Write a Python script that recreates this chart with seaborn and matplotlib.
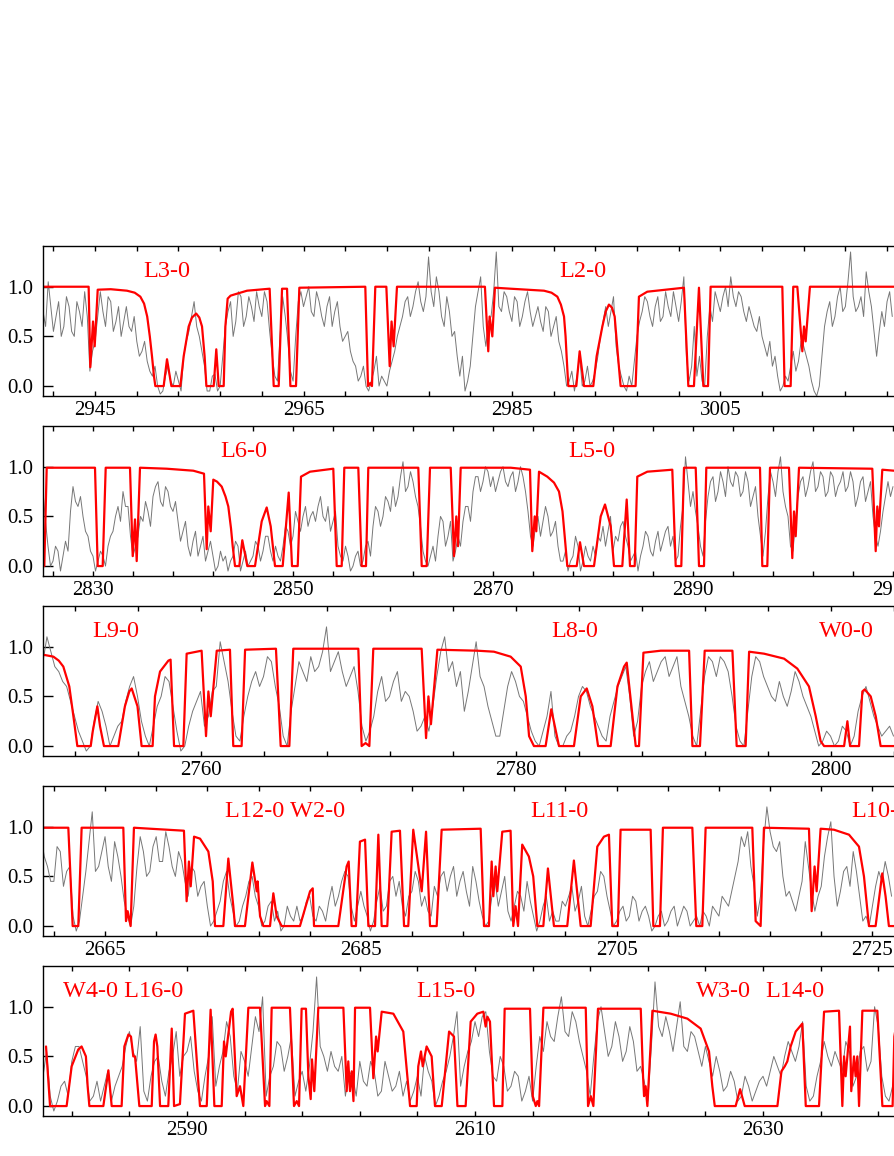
import numpy as np
import matplotlib
matplotlib.use("Agg")
import matplotlib.pyplot as plt
import seaborn as sns

sns.set_style("ticks")
plt.rcParams['font.family'] = ['Liberation Serif', 'DejaVu Serif']

# ---------------- data: observed (gray) spectra ----------------
# main samples every 0.5 A from obs_start; *_half samples sit 0.25 A after each main sample
obs_step = 0.5
obs_start_p1 = 2940.0
obs_p1 = [0.75,1.05,0.55,0.85,0.6,0.8,0.5,0.75,0.95,0.15,
          0.45,0.95,0.6,0.85,0.65,0.5,0.8,0.55,0.45,0.35,
          0.25,0.1,0.0,-0.05,0.2,0.0,0.05,0.3,0.55,0.85,
          0.5,0.2,-0.05,0.12,0.0,0.6,0.85,0.65,0.9,0.7,
          0.8,0.95,0.7,0.85,0.3,0.05,0.9,0.45,0.05,0.85,
          0.8,1.0,0.7,0.85,0.6,0.9,0.75,0.6,0.5,0.35,
          0.2,0.1,0.0,0.05,0.3,0.1,0.0,0.25,0.5,0.7,
          0.9,0.8,1.05,0.75,1.3,0.8,0.95,0.6,0.75,0.55,
          0.1,-0.05,0.2,0.8,1.1,0.4,0.7,1.35,0.75,0.9,
          0.65,0.85,0.7,0.95,0.6,0.8,0.55,0.75,0.6,0.45,
          0.2,0.05,-0.05,0.3,0.05,0.0,0.15,0.5,0.8,0.75,
          0.4,0.1,-0.05,0.0,0.5,0.75,0.85,0.6,0.9,0.7,
          0.8,0.95,0.65,1.1,0.05,0.6,0.3,0.0,0.8,0.95,
          0.75,1.0,1.1,0.8,0.9,0.65,0.7,0.55,0.5,0.3,
          0.2,0.1,0.0,0.05,0.35,0.25,0.4,0.2,-0.05,0.0,
          0.6,0.85,0.7,1.0,0.8,1.35,0.75,0.9,1.15,0.8,
          0.3,0.75,0.85,0.7]
obs_p1_half = [0.6,0.8,0.7,0.5,0.9,0.55,0.85,0.6,0.7,0.35,
               0.7,0.75,0.9,0.55,0.8,0.65,0.6,0.7,0.3,0.45,
               0.15,0.2,-0.08,0.1,0.05,0.15,-0.05,0.45,0.7,0.6,
               0.35,-0.05,0.1,-0.05,0.3,0.75,0.5,0.95,0.6,0.9,
               0.65,0.8,0.95,0.55,0.1,0.5,0.7,0.15,0.5,0.95,
               0.9,0.75,0.95,0.7,0.8,0.6,0.85,0.45,0.55,0.25,
               0.05,0.2,-0.05,0.15,0.0,0.05,0.15,0.35,0.6,0.85,
               0.7,0.95,0.85,0.9,0.95,1.1,0.7,0.9,0.5,0.3,
               0.3,0.05,0.5,0.95,0.6,0.65,0.95,0.8,0.95,0.75,
               0.9,0.6,0.85,0.75,0.7,0.65,0.8,0.5,0.7,0.35,
               0.0,0.15,0.1,0.0,0.2,0.05,0.3,0.65,0.6,0.9,
               0.2,0.0,0.1,0.25,0.65,0.9,0.7,0.8,0.65,0.95,
               0.7,0.8,0.85,0.3,0.2,0.1,0.05,0.5,0.65,0.85,
               0.9,0.8,0.9,0.95,0.75,0.8,0.6,0.7,0.4,0.45,
               0.3,-0.05,0.1,0.2,0.15,0.45,0.3,0.05,-0.1,0.3,
               0.75,0.6,0.9,0.75,1.05,0.9,0.8,0.7,0.95,0.55,
               0.55,0.6,0.95]

obs_start_p2 = 2825.0
obs_p2 = [0.75,0.2,0.05,0.15,0.1,0.15,0.8,0.6,0.5,0.3,
          0.1,0.05,0.1,0.2,0.35,0.6,0.75,0.6,0.1,0.3,
          0.45,0.55,0.7,0.85,0.6,0.75,0.55,0.45,0.35,0.2,
          0.25,0.1,0.3,0.15,0.1,0.0,0.05,-0.05,0.1,0.2,
          0.05,0.0,0.1,0.2,0.15,0.3,0.05,0.1,0.2,0.35,
          0.3,0.45,0.5,0.4,0.55,0.6,0.5,0.6,0.45,0.2,
          0.05,0.1,0.0,0.15,0.05,0.25,0.4,0.55,0.5,0.65,
          0.8,0.7,1.05,0.8,0.85,0.6,0.15,0.0,0.2,0.3,
          0.45,0.3,0.05,0.3,0.45,0.6,0.75,0.9,0.85,0.95,
          0.9,0.85,1.0,0.8,0.95,0.85,0.9,0.55,0.2,0.5,
          0.45,0.5,0.35,0.2,0.05,-0.05,0.1,0.2,0.05,0.1,
          0.2,0.3,0.4,0.35,0.15,0.25,0.45,0.2,0.1,-0.05,
          0.2,0.3,0.1,0.35,0.25,0.4,0.3,0.1,0.6,0.85,
          0.75,0.4,0.1,0.7,0.9,0.75,0.85,1.0,0.8,0.9,
          0.75,0.85,0.7,0.5,0.1,0.7,0.85,0.95,0.75,0.5,
          0.15,0.7,0.9,0.8,1.05,0.8,0.9,0.75,0.9,0.8,
          0.95,0.8,0.85,0.7,0.9,0.75,0.5,0.2,0.55,0.85,
          0.8]
obs_p2_half = [0.45,0.0,0.2,-0.05,0.25,0.55,0.65,0.7,0.35,0.15,
               -0.05,0.15,0.0,0.3,0.5,0.45,0.6,0.3,0.2,0.5,
               0.65,0.4,0.8,0.65,0.8,0.6,0.65,0.25,0.45,0.1,
               0.35,0.2,0.05,0.25,-0.05,0.15,0.1,0.05,0.25,-0.05,
               0.15,0.05,0.25,0.05,0.3,0.15,0.2,0.05,0.4,0.2,
               0.55,0.35,0.6,0.5,0.45,0.7,0.45,0.35,0.55,0.1,
               0.2,-0.05,0.1,0.0,0.2,0.1,0.6,0.4,0.7,0.55,
               0.6,0.9,0.75,0.95,0.7,0.4,0.05,0.1,0.05,0.5,
               0.2,0.45,0.15,0.2,0.6,0.45,0.9,0.75,1.0,0.8,
               0.75,0.95,0.85,0.9,0.75,1.0,0.75,0.3,0.4,0.3,
               0.6,0.3,0.45,0.05,0.15,0.05,0.3,-0.05,0.2,0.05,
               0.1,0.25,0.2,0.5,0.3,0.4,0.3,0.05,0.15,0.1,
               0.35,0.15,0.25,0.15,0.35,0.2,0.05,0.4,1.1,0.6,
               0.55,0.2,0.45,0.85,0.65,0.95,0.7,0.85,0.95,0.7,
               0.95,0.6,0.8,0.3,0.35,0.95,0.7,1.1,0.6,0.2,
               0.45,0.85,0.7,0.95,0.75,0.95,0.7,0.95,0.7,0.85,
               0.75,0.95,0.6,0.85,0.65,0.85,0.3,0.35,0.7,0.7]

obs_start_p3 = 2750.0
obs_p3 = [0.85,0.95,0.75,0.6,0.3,0.05,0.0,0.45,0.2,0.1,
          0.25,0.6,0.5,0.1,0.2,0.5,0.65,0.15,0.0,0.35,
          0.55,0.3,0.6,0.85,0.35,0.05,0.5,0.75,0.7,0.85,
          0.4,0.0,0.6,0.75,0.9,0.8,1.2,0.85,0.75,0.7,
          0.55,0.05,0.3,0.7,0.5,0.75,0.55,0.35,0.2,0.15,
          0.7,1.1,0.85,0.75,0.55,1.05,0.6,0.25,0.1,0.6,
          0.65,0.45,0.15,0.0,0.3,0.1,0.0,0.15,0.5,0.55,
          0.3,0.1,0.3,0.6,0.8,0.1,0.6,0.85,0.75,0.9,
          0.8,0.6,0.3,0.0,0.7,0.85,0.9,0.75,0.2,0.0,
          0.7,0.85,0.6,0.45,0.5,0.55,0.65,0.4,0.15,0.05,
          0.1,0.05,0.15,0.1,0.5,0.45,0.2,0.15,0.1]
obs_p3_half = [1.1,0.8,0.65,0.45,0.15,-0.05,0.25,0.35,0.0,0.2,
               0.45,0.7,0.25,0.0,0.4,0.7,0.4,-0.05,0.2,0.45,
               0.2,0.55,1.05,0.65,0.1,0.3,0.65,0.6,0.9,0.6,
               0.1,0.35,0.85,0.65,0.75,0.95,0.75,0.95,0.6,0.8,
               0.2,0.15,0.55,0.45,0.65,0.45,0.5,0.15,0.3,0.4,
               0.95,0.75,0.6,0.35,0.8,0.7,0.4,0.1,0.35,0.75,
               0.5,0.3,0.05,0.15,0.55,0.0,0.1,0.3,0.6,0.4,
               0.2,0.05,0.45,0.7,0.5,0.25,0.75,0.65,0.85,0.7,
               0.9,0.45,0.1,0.35,0.9,0.7,0.85,0.5,0.05,0.35,
               0.9,0.7,0.5,0.65,0.4,0.75,0.5,0.3,0.0,0.15,
               0.0,0.2,0.0,0.35,0.6,0.3,0.1,0.2]

obs_start_p4 = 2660.0
obs_p4 = [0.9,0.6,0.45,0.75,0.55,0.1,0.05,0.55,1.15,0.6,
          0.9,0.45,0.7,0.25,0.0,0.6,0.75,0.55,0.9,0.65,
          0.8,0.5,0.65,0.3,0.55,0.4,0.2,0.05,0.25,0.55,
          0.15,0.05,0.3,0.5,0.2,0.05,0.25,0.15,0.0,0.1,
          0.2,0.1,0.3,0.05,0.15,0.25,0.2,0.45,0.5,0.05,
          0.35,0.1,0.05,0.4,0.2,0.5,0.45,0.1,0.35,0.45,
          0.3,0.1,0.3,0.55,0.5,0.3,0.55,0.2,0.45,0.1,
          0.05,0.45,0.35,0.15,0.2,0.3,0.45,0.1,0.05,0.3,
          0.15,0.05,0.2,0.4,0.25,0.1,0.15,0.35,0.5,0.15,
          0.05,0.2,0.1,0.25,0.15,0.1,0.0,0.15,0.05,0.2,
          0.1,0.15,0.05,0.0,0.1,0.2,0.1,0.25,0.35,0.65,
          0.8,0.6,0.1,0.85,0.95,0.75,0.5,0.35,0.15,0.45,
          0.6,0.15,0.4,0.9,0.5,0.35,0.6,0.75,0.3,0.1,
          0.2,0.55,0.65,0.3]
obs_p4_half = [0.7,0.45,0.8,0.4,0.6,-0.05,0.3,0.85,0.55,0.75,
               0.6,0.85,0.5,0.1,0.2,0.9,0.5,0.8,0.65,0.95,
               0.6,0.75,0.45,0.6,0.3,0.45,0.0,0.15,0.45,0.3,
               0.0,0.2,0.45,0.3,0.0,0.2,0.05,-0.05,0.2,0.05,
               0.05,0.25,0.1,0.2,0.05,0.4,0.3,0.55,0.2,0.2,
               0.2,-0.05,0.25,0.15,0.45,0.3,0.2,0.3,0.55,0.2,
               0.15,0.4,0.5,0.35,0.6,0.45,0.35,0.6,0.25,0.0,
               0.3,0.2,0.5,0.05,0.35,0.15,0.25,-0.05,0.2,0.05,
               0.05,0.25,0.3,0.15,0.4,0.0,0.3,0.55,0.3,0.0,
               0.15,0.05,0.3,0.05,0.2,-0.05,0.1,0.0,0.15,0.0,
               0.2,0.0,0.1,0.15,0.0,0.15,0.3,0.2,0.5,0.9,
               0.95,0.4,0.3,1.2,0.8,0.85,0.3,0.25,0.3,0.85,
               0.35,0.3,0.7,1.05,0.2,0.55,0.4,0.55,0.05,0.0,
               0.4,0.45,0.5]

obs_start_p5 = 2580.0
obs_p5 = [0.3,0.1,0.05,0.25,0.45,0.6,0.3,0.1,0.05,0.35,
          0.2,0.4,0.75,0.45,0.15,0.3,0.5,0.1,0.5,0.3,
          0.55,0.35,0.05,0.5,0.2,0.55,0.7,0.15,0.45,0.6,
          0.75,0.1,0.4,0.6,0.5,0.1,0.35,0.4,1.3,0.5,
          0.55,0.35,0.1,0.3,0.45,0.2,0.35,0.15,0.3,0.2,
          0.1,0.05,0.3,0.5,0.25,0.1,0.35,0.7,0.2,0.55,
          0.85,0.9,0.55,0.25,0.4,0.2,0.3,0.15,0.05,0.7,
          0.85,0.65,1.1,0.7,0.85,0.5,0.1,0.85,0.75,0.6,
          0.7,0.55,0.65,0.4,0.05,1.25,0.7,0.75,0.8,0.6,
          0.75,0.55,0.6,0.3,0.35,0.2,0.25,0.1,0.2,0.15,
          0.3,0.35,0.4,0.5,0.55,0.6,0.2,0.1,0.45,0.5,
          0.55,0.35,0.55,0.3,0.6,0.45,0.8,0.1,0.2,0.5]
obs_p5_half = [0.55,-0.05,0.2,0.1,0.6,0.45,0.05,0.25,0.2,0.05,
               0.3,0.6,0.55,0.8,0.05,0.45,0.25,0.35,0.75,0.5,
               0.7,0.15,0.3,0.9,0.4,0.85,0.3,0.55,0.3,0.9,
               1.1,0.3,0.65,0.35,0.7,0.25,0.15,0.75,0.6,0.35,
               0.4,0.5,0.35,0.1,0.25,0.45,0.1,0.45,0.15,0.35,
               0.25,0.15,0.1,0.35,0.0,0.25,0.5,0.95,0.4,0.65,
               0.7,0.95,0.3,0.5,0.15,0.35,0.05,0.3,0.4,0.55,
               0.7,0.9,0.75,0.95,0.65,0.35,0.5,1.0,0.5,0.85,
               0.45,0.8,0.35,0.25,0.6,0.8,0.9,0.55,1.05,0.55,
               0.7,0.4,0.45,0.5,0.15,0.35,0.05,0.3,0.05,0.25,
               0.2,0.5,0.3,0.65,0.45,0.85,0.05,0.3,0.65,0.4,
               0.45,0.65,0.2,0.55,0.35,1.0,0.3,0.05,0.35]

# ---------------- data: model (red) curves, vertices (wavelength, flux) ----------------
model_p1 = [(2940.0,1.0),(2944.38,1.0),(2944.54,0.19),(2944.8,0.65),(2944.96,0.40),(2945.25,0.97),
    (2946.5,0.975),(2948.06,0.96),(2948.8,0.94),(2949.34,0.9),(2949.7,0.83),(2950.0,0.7),
    (2950.25,0.5),(2950.46,0.3),(2950.65,0.1),(2950.78,0.0),
    (2951.58,0.0),(2951.9,0.27),(2952.32,0.0),(2953.18,0.0),(2953.5,0.3),(2953.98,0.6),
    (2954.3,0.69),(2954.7,0.73),(2955.0,0.69),(2955.26,0.6),(2955.51,0.3),(2955.68,0.0),
    (2956.38,0.0),(2956.63,0.37),(2956.86,0.0),(2957.34,0.0),(2957.5,0.6),(2957.72,0.88),
    (2958.0,0.91),(2958.3,0.92),(2959.58,0.96),(2961.75,0.98),
    (2962.14,0.0),(2962.62,0.0),(2962.94,0.98),(2963.42,0.98),(2963.74,0.0),(2964.28,0.0),
    (2964.6,0.99),(2970.93,1.0),(2971.19,0.0),(2971.4,0.03),(2971.57,0.0),(2971.89,1.0),
    (2972.95,1.0),(2973.27,0.2),(2973.45,0.65),(2973.65,0.4),(2973.97,1.0),(2982.41,1.0),
    (2982.73,0.35),(2982.86,0.7),(2983.12,0.5),(2983.37,0.99),(2984.88,0.98),(2988.08,0.96),
    (2988.8,0.94),(2989.36,0.9),(2989.7,0.82),(2990.0,0.7),(2990.15,0.5),(2990.25,0.3),
    (2990.41,0.0),(2991.18,0.0),(2991.5,0.35),
    (2991.92,0.0),(2992.81,0.0),(2993.13,0.3),(2993.68,0.6),(2994.0,0.75),(2994.31,0.82),
    (2994.6,0.79),(2994.86,0.7),(2995.18,0.3),(2995.43,0.0),(2996.87,0.0),(2997.19,0.9),
    (2997.99,0.95),(3001.51,0.99),
    (3001.93,0.0),(3002.47,0.0),(3002.95,0.99),(3003.37,0.0),(3003.82,0.0),(3004.07,1.0),
    (3010.95,1.0),(3011.17,0.0),(3011.75,0.0),(3012.0,1.0),(3012.39,1.0),(3012.87,0.35),
    (3013.03,0.6),(3013.19,0.45),(3013.6,1.0),(3027.0,1.0)]

model_p2 = [(2825.13,0.0),(2825.37,0.99),(2830.2,0.99),(2830.47,0.0),(2830.97,0.0),(2831.27,0.99),
    (2833.7,0.99),(2833.97,0.1),(2834.2,0.47),(2834.37,0.05),(2834.7,0.99),(2837.37,0.98),
    (2840.03,0.96),(2841.1,0.93),(2841.37,0.17),(2841.53,0.6),(2841.77,0.35),(2842.03,0.87),
    (2842.4,0.85),(2842.87,0.8),(2843.25,0.7),(2843.53,0.6),(2843.8,0.38),(2843.97,0.2),
    (2844.2,0.0),(2844.63,0.0),(2844.93,0.26),
    (2845.43,0.0),(2846.2,0.0),(2846.87,0.45),(2847.37,0.59),(2847.77,0.4),(2848.2,0.0),
    (2848.97,0.0),(2849.57,0.74),(2849.9,0.0),(2850.47,0.0),(2850.8,0.9),(2851.7,0.95),
    (2854.03,0.98),(2854.37,0.0),(2854.87,0.0),(2855.13,0.99),(2856.53,0.99),(2856.87,0.0),
    (2857.3,0.0),(2857.53,0.99),(2862.53,0.99),(2862.87,0.0),(2863.37,0.0),(2863.7,0.99),
    (2865.77,0.99),(2866.1,0.1),(2866.33,0.5),(2866.5,0.2),(2866.77,0.99),(2871.77,0.99),
    (2873.7,0.97),(2873.93,0.15),(2874.17,0.5),(2874.33,0.35),(2874.6,0.95),(2875.43,0.9),
    (2876.1,0.84),(2876.6,0.75),(2876.95,0.55),(2877.17,0.3),(2877.43,0.0),(2878.37,0.0),
    (2878.7,0.24),(2879.1,0.0),
    (2880.1,0.0),(2880.77,0.5),(2881.2,0.62),(2881.77,0.4),(2882.1,0.0),(2882.93,0.0),
    (2883.37,0.67),(2883.7,0.0),(2884.17,0.0),(2884.43,0.9),(2885.43,0.95),(2887.93,0.97),
    (2888.27,0.0),(2888.83,0.0),(2889.1,0.99),(2890.27,0.99),(2890.6,0.0),(2891.1,0.0),
    (2891.33,0.99),(2896.7,0.99),(2896.93,0.0),(2897.43,0.0),(2897.7,0.99),(2899.6,0.99),
    (2899.93,0.08),(2900.1,0.55),(2900.27,0.3),(2900.6,0.99),(2907.93,0.98),(2908.27,0.15),
    (2908.43,0.6),(2908.6,0.4),(2908.93,0.97),(2910.1,0.96),(2915.0,0.96)]

model_p3 = [(2750.0,0.92),(2750.66,0.9),(2751.0,0.86),(2751.29,0.8),(2751.67,0.6),(2751.93,0.3),
    (2752.18,0.0),
    (2753.03,0.0),(2753.16,0.15),(2753.45,0.4),(2753.62,0.2),(2753.87,0.0),(2754.78,0.0),
    (2755.2,0.4),(2755.48,0.55),(2755.63,0.58),(2756.0,0.4),(2756.26,0.0),(2756.96,0.0),
    (2757.11,0.5),(2757.43,0.75),(2757.96,0.86),(2758.1,0.87),(2758.32,0.0),(2758.91,0.0),
    (2759.12,0.93),(2760.07,0.96),(2760.35,0.1),(2760.5,0.55),(2760.65,0.3),(2761.03,0.96),
    (2761.87,0.97),(2762.08,0.0),(2762.61,0.0),(2762.83,0.97),(2764.79,0.98),(2765.09,0.0),
    (2765.64,0.0),(2765.89,0.98),(2770.02,0.98),(2770.23,0.0),(2770.48,0.03),(2770.72,0.0),
    (2770.97,0.98),(2774.04,0.98),(2774.32,0.08),(2774.47,0.5),(2774.63,0.22),(2775.04,0.97),
    (2777.58,0.96),(2778.63,0.95),(2779.69,0.9),(2780.33,0.8),(2780.65,0.5),(2780.86,0.1),
    (2781.17,0.0),(2781.91,0.0),(2782.27,0.37),(2782.76,0.0),(2783.71,0.0),(2784.14,0.5),
    (2784.52,0.58),(2784.88,0.4),(2785.24,0.0),(2786.04,0.0),(2786.47,0.6),(2786.89,0.8),
    (2787.06,0.84),(2787.63,0.0),(2787.84,0.0),(2788.12,0.94),(2789.22,0.96),(2791.02,0.96),
    (2791.23,0.0),(2791.71,0.0),(2792.01,0.96),(2793.77,0.96),(2794.04,0.0),(2794.61,0.0),
    (2794.83,0.95),(2795.78,0.93),(2797.05,0.88),(2797.89,0.78),(2798.63,0.6),(2799.06,0.3),
    (2799.37,0.05),(2799.59,0.0),(2800.86,0.0),(2801.07,0.25),(2801.24,0.0),(2801.81,0.0),
    (2802.02,0.55),(2802.17,0.57),(2802.55,0.5),(2802.87,0.3),(2803.18,0.0),(2808.0,0.0)]

model_p4 = [(2660.15,0.99),(2662.13,0.99),(2662.47,0.0),(2662.91,0.0),(2663.17,0.99),(2666.43,0.99),
    (2666.64,0.05),(2666.77,0.15),(2667.0,0.0),(2667.26,0.99),(2668.52,0.98),(2671.17,0.96),
    (2671.38,0.25),(2671.56,0.65),(2671.7,0.4),(2671.96,0.9),(2672.43,0.88),(2673.08,0.75),
    (2673.42,0.45),(2673.6,0.0),(2674.25,0.0),(2674.64,0.68),(2675.03,0.2),(2675.16,0.0),
    (2675.94,0.0),(2676.52,0.64),(2676.86,0.35),(2676.93,0.45),(2677.12,0.1),(2677.38,0.0),
    (2677.9,0.0),(2678.16,0.33),(2678.42,0.1),(2678.81,0.0),(2680.24,0.0),(2681.03,0.35),
    (2681.24,0.38),(2681.34,0.0),(2683.24,0.0),(2683.89,0.6),(2684.05,0.65),(2684.28,0.0),
    (2684.62,0.0),(2684.93,0.85),(2685.33,0.87),(2685.59,0.0),(2686.11,0.0),(2686.37,0.92),
    (2686.63,0.0),(2687.07,0.0),(2687.41,0.95),(2688.06,0.96),(2688.38,0.0),(2688.71,0.0),
    (2689.1,0.97),(2689.5,0.6),(2689.76,0.35),(2690.1,0.95),(2690.41,0.0),(2690.93,0.0),
    (2691.32,0.97),(2694.37,0.98),(2694.63,0.0),(2695.02,0.0),(2695.23,0.65),(2695.36,0.3),
    (2695.54,0.6),(2695.67,0.35),(2696.06,0.95),(2696.71,0.96),(2696.92,0.0),(2697.1,0.2),
    (2697.29,0.0),(2697.62,0.82),(2698.14,0.7),(2698.48,0.5),(2698.8,0.0),(2699.27,0.0),
    (2699.63,0.58),(2700.1,0.0),(2701.14,0.0),(2701.66,0.66),(2702.19,0.0),(2702.97,0.0),
    (2703.49,0.8),(2704.01,0.9),(2704.4,0.92),(2704.66,0.0),(2705.1,0.0),(2705.31,0.97),
    (2707.66,0.97),(2707.87,0.0),(2708.39,0.0),(2708.62,0.99),(2710.92,0.99),(2711.23,0.0),
    (2711.7,0.0),(2711.96,0.99),(2715.61,0.99),(2715.87,0.05),(2716.26,0.0),(2716.52,0.99),
    (2720.04,0.98),(2720.25,0.15),(2720.48,0.6),(2720.64,0.35),(2720.95,0.98),(2721.99,0.97),
    (2723.17,0.92),(2723.95,0.8),(2724.34,0.5),(2724.73,0.0),(2725.25,0.0),(2725.77,0.53),
    (2726.03,0.3),(2726.29,0.0),(2731.0,0.0)]

model_p5 = [(2580.21,0.6),(2580.49,0.0),(2581.64,0.0),(2581.99,0.4),(2582.45,0.57),(2582.68,0.6),
    (2582.98,0.5),(2583.1,0.2),(2583.22,0.0),(2584.19,0.0),(2584.54,0.36),(2584.77,0.0),
    (2585.46,0.0),(2585.65,0.6),(2585.93,0.72),(2586.11,0.7),(2586.27,0.5),(2586.39,0.5),
    (2586.69,0.0),(2587.55,0.0),(2587.71,0.65),(2587.82,0.72),(2587.94,0.6),(2588.13,0.0),
    (2588.7,0.0),(2588.94,0.78),(2589.1,0.0),(2589.51,0.02),(2589.86,0.93),(2590.44,0.96),
    (2590.9,0.0),(2591.37,0.0),(2591.64,0.97),(2591.9,0.0),(2592.41,0.0),(2592.57,0.65),
    (2592.69,0.5),(2592.85,0.7),(2593.06,0.95),(2593.17,0.98),(2593.45,0.1),(2593.68,0.2),
    (2593.91,0.0),(2594.26,0.99),(2595.07,0.99),(2595.42,0.0),(2595.53,0.05),(2595.72,0.0),
    (2595.88,0.99),(2597.15,0.99),(2597.43,0.0),(2597.62,0.05),(2597.78,0.0),(2597.96,0.98),
    (2598.26,0.98),(2598.43,0.3),(2598.59,0.07),(2598.68,0.47),(2598.84,0.15),(2599.12,0.99),
    (2600.86,0.99),(2601.09,0.15),(2601.2,0.45),(2601.32,0.15),(2601.44,0.35),(2601.56,0.05),
    (2601.67,0.99),(2602.71,0.99),(2602.94,0.28),(2603.13,0.7),(2603.24,0.55),(2603.52,0.95),
    (2604.33,0.93),(2605.02,0.75),(2605.3,0.3),(2605.49,0.0),(2605.95,0.0),(2606.06,0.4),
    (2606.25,0.55),(2606.37,0.4),(2606.64,0.6),(2606.99,0.5),(2607.22,0.0),(2607.69,0.0),
    (2608.2,0.75),(2608.54,0.7),(2608.78,0.0),(2609.35,0.0),(2609.7,0.85),(2610.16,0.93),
    (2610.58,0.95),(2610.74,0.8),(2610.86,0.9),(2611.04,0.85),(2611.32,0.0),(2611.9,0.0),
    (2612.06,0.98),(2613.82,0.98),(2614.01,0.1),(2614.22,0.0),(2614.33,0.05),(2614.45,0.0),
    (2614.75,0.99),(2617.69,0.99),(2617.85,0.0),(2618.04,0.1),(2618.22,0.0),(2618.54,0.98),
    (2621.51,0.98),(2621.67,0.3),(2621.74,0.1),(2621.85,0.2),(2621.97,0.0),(2622.32,0.96),
    (2623.59,0.93),(2624.75,0.88),(2625.67,0.78),(2626.25,0.55),(2626.48,0.2),(2626.65,0.0),
    (2628.1,0.0),(2628.41,0.17),(2628.73,0.0),(2631.0,0.0),(2631.28,0.35),(2631.51,0.4),
    (2631.69,0.45),(2631.92,0.6),(2632.27,0.75),(2632.73,0.83),(2632.97,0.0),(2633.89,0.0),
    (2634.24,0.95),(2635.28,0.96),(2635.51,0.0),(2635.63,0.5),(2635.74,0.3),(2635.86,0.5),
    (2636.04,0.8),(2636.13,0.15),(2636.32,0.5),(2636.43,0.3),(2636.55,0.5),(2636.67,0.0),
    (2636.9,0.96),(2637.94,0.96),(2638.29,0.0),(2639.0,0.0),(2639.12,0.7),(2639.4,0.95),
    (2643.0,0.95)]

# band labels: (text, x axes fraction, ha)
labels_p1 = [("L3-0", 0.137, "center"), ("L2-0", 0.600, "center")]
labels_p2 = [("L6-0", 0.223, "center"), ("L5-0", 0.610, "center")]
labels_p3 = [("L9-0", 0.081, "center"), ("L8-0", 0.591, "center"), ("W0-0", 0.893, "center")]
labels_p4 = [("L12-0 W2-0", 0.269, "center"), ("L11-0", 0.574, "center"), ("L10-0", 0.898, "left")]
labels_p5 = [("W4-0 L16-0", 0.089, "center"), ("L15-0", 0.448, "center"),
             ("W3-0", 0.756, "center"), ("L14-0", 0.835, "center")]

# panel x ranges and tick layout
xlims = [(2940.0, 3026.37), (2825.0, 2915.0), (2750.0, 2807.14), (2660.15, 2730.52), (2580.0, 2642.5)]
tick_first = [2941, 2826, 2752, 2661, 2582]
label_base = [2945, 2830, 2760, 2665, 2590]

panels = [
    (obs_start_p1, obs_p1, obs_p1_half, model_p1, labels_p1),
    (obs_start_p2, obs_p2, obs_p2_half, model_p2, labels_p2),
    (obs_start_p3, obs_p3, obs_p3_half, model_p3, labels_p3),
    (obs_start_p4, obs_p4, obs_p4_half, model_p4, labels_p4),
    (obs_start_p5, obs_p5, obs_p5_half, model_p5, labels_p5),
]

W, H = 894, 1156
fig = plt.figure(figsize=(W / 100, H / 100), dpi=100)
tops = [246, 426, 606, 786, 966]
ax_h = 150

for i, (ostart, obs, obs_half, model, labs) in enumerate(panels):
    ax = fig.add_axes([43 / W, 1 - (tops[i] + ax_h) / H, 900 / W, ax_h / H])
    wl_main = ostart + obs_step * np.arange(len(obs))
    wl_half = ostart + obs_step * np.arange(len(obs_half)) + obs_step / 2
    wl = np.concatenate([wl_main, wl_half])
    fl = np.concatenate([np.array(obs, float), np.array(obs_half, float)])
    order = np.argsort(wl)
    wl, fl = wl[order], fl[order]
    sns.lineplot(x=wl, y=fl, ax=ax, color="#777777", linewidth=0.7,
                 estimator=None, sort=False)
    mw = np.array([p[0] for p in model])
    mf = np.array([p[1] for p in model])
    sns.lineplot(x=mw, y=mf, ax=ax, color="#ff0000", linewidth=1.6,
                 estimator=None, sort=False)
    ax.set_xlim(*xlims[i])
    ax.set_ylim(-0.1, 1.41)
    ticks = np.arange(tick_first[i], xlims[i][1], 4)
    ax.set_xticks(ticks)
    ax.set_xticklabels([str(int(t)) if (int(t) - label_base[i]) % 20 == 0 else "" for t in ticks])
    ax.set_yticks([0.0, 0.5, 1.0])
    ax.set_yticklabels(["0.0", "0.5", "1.0"])
    ax.tick_params(axis="x", direction="in", top=True, bottom=True, length=3.6, width=1.0,
                   labelsize=15, pad=3.5, colors="black")
    ax.tick_params(axis="y", direction="in", left=True, right=False, length=7, width=1.0,
                   labelsize=15, pad=7, colors="black")
    ax.set_xlabel("")
    ax.set_ylabel("")
    for s in ax.spines.values():
        s.set_linewidth(1.0)
        s.set_color("black")
    for txt, xf, ha in labs:
        ax.text(xf, 0.83, txt, transform=ax.transAxes, ha=ha, va="center",
                color="#ff0000", fontsize=17.5)

fig.savefig("out.png", dpi=100)
